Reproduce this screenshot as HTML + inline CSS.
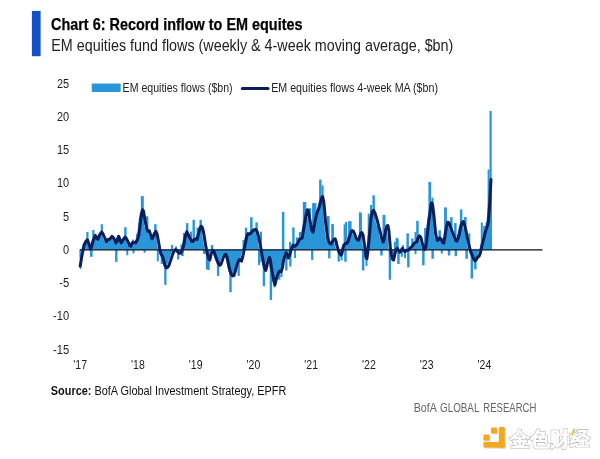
<!DOCTYPE html>
<html><head><meta charset="utf-8"><title>Chart 6</title>
<style>html,body{margin:0;padding:0;background:#fff}svg{display:block}text{font-family:"Liberation Sans", sans-serif}</style></head>
<body><svg width="600" height="459" viewBox="0 0 600 459">
<rect width="600" height="459" fill="#ffffff"/>
<rect x="31.9" y="10.9" width="8.7" height="45.3" fill="#1450c6"/>
<rect x="91.7" y="83.6" width="29" height="8.3" rx="0.8" fill="#2896d8"/><line x1="242.3" y1="88.4" x2="268" y2="88.4" stroke="#0c1d5c" stroke-width="3" stroke-linecap="round"/>
<g fill="#2896d8"><path d="M79.5,249.8 L79.5,259.5 L80.5,253.7 L81.5,249.1 L82.5,244.8 L83.5,242.7 L84.5,240.9 L85.5,239.9 L86.5,242.1 L87.5,245.2 L88.5,248.7 L89.5,247.7 L90.5,244.1 L91.5,240.5 L92.5,237.9 L93.5,235.3 L94.5,237.3 L95.5,238.6 L96.5,238.2 L97.5,235.8 L98.5,233.9 L99.5,232.7 L100.5,232.8 L101.5,234.5 L102.5,236.7 L103.5,239.0 L104.5,241.5 L105.5,240.4 L106.5,239.6 L107.5,239.3 L108.5,238.5 L109.5,237.3 L110.5,236.7 L111.5,237.7 L112.5,239.2 L113.5,241.5 L114.5,242.3 L115.5,240.6 L116.5,237.1 L117.5,238.0 L118.5,240.5 L119.5,242.6 L120.5,241.1 L121.5,239.6 L122.5,238.1 L123.5,237.3 L124.5,238.3 L125.5,240.3 L126.5,242.5 L127.5,244.8 L128.5,245.9 L129.5,245.2 L130.5,242.9 L131.5,242.4 L132.5,242.5 L133.5,242.8 L134.5,241.6 L135.5,239.9 L136.5,236.8 L137.5,231.5 L138.5,223.4 L139.5,215.4 L140.5,210.9 L141.5,210.8 L142.5,215.8 L143.5,221.7 L144.5,226.5 L145.5,229.8 L146.5,231.3 L147.5,230.8 L148.5,233.9 L149.5,236.8 L150.5,238.1 L151.5,236.6 L152.5,234.1 L153.5,232.3 L154.5,232.3 L155.5,234.9 L156.5,240.4 L157.5,246.5 L158.5,251.4 L159.5,254.5 L160.5,256.0 L161.5,258.9 L162.5,262.5 L163.5,265.9 L164.5,267.9 L165.5,267.4 L166.5,266.3 L167.5,264.4 L168.5,261.4 L169.5,258.4 L170.5,255.3 L171.5,252.7 L172.5,250.8 L173.5,249.8 L174.5,250.0 L175.5,251.0 L176.5,252.4 L177.5,253.4 L178.5,253.1 L179.5,252.0 L180.5,250.0 L181.5,246.7 L182.5,242.0 L183.5,236.2 L184.5,233.1 L185.5,232.6 L186.5,234.7 L187.5,237.0 L188.5,238.9 L189.5,240.6 L190.5,241.4 L191.5,241.1 L192.5,239.6 L193.5,239.0 L194.5,239.1 L195.5,238.3 L196.5,234.8 L197.5,230.8 L198.5,227.8 L199.5,226.5 L200.5,227.4 L201.5,231.4 L202.5,237.1 L203.5,243.1 L204.5,248.8 L205.5,253.5 L206.5,257.2 L207.5,259.5 L208.5,257.9 L209.5,253.8 L210.5,251.5 L211.5,250.8 L212.5,252.4 L213.5,255.4 L214.5,258.2 L215.5,260.8 L216.5,263.2 L217.5,265.0 L218.5,264.9 L219.5,263.3 L220.5,260.6 L221.5,257.6 L222.5,255.6 L223.5,254.6 L224.5,255.3 L225.5,258.1 L226.5,263.1 L227.5,267.7 L228.5,271.5 L229.5,274.2 L230.5,275.6 L231.5,275.5 L232.5,274.0 L233.5,271.2 L234.5,267.2 L235.5,263.8 L236.5,261.3 L237.5,259.9 L238.5,259.5 L239.5,260.9 L240.5,258.3 L241.5,254.1 L242.5,249.3 L243.5,243.8 L244.5,238.6 L245.5,235.1 L246.5,233.6 L247.5,234.1 L248.5,233.7 L249.5,232.6 L250.5,231.3 L251.5,230.3 L252.5,229.8 L253.5,229.6 L254.5,230.2 L255.5,231.9 L256.5,235.4 L257.5,240.2 L258.5,245.2 L259.5,250.4 L260.5,256.5 L261.5,261.6 L262.5,266.2 L263.5,269.6 L264.5,268.3 L265.5,264.0 L266.5,259.6 L267.5,257.6 L268.5,259.7 L269.5,266.5 L270.5,272.6 L271.5,277.6 L272.5,282.2 L273.5,283.2 L274.5,279.3 L275.5,275.4 L276.5,272.9 L277.5,271.6 L278.5,271.4 L279.5,271.2 L280.5,268.1 L281.5,261.9 L282.5,257.4 L283.5,254.5 L284.5,253.1 L285.5,254.9 L286.5,257.8 L287.5,256.0 L288.5,252.8 L289.5,249.6 L290.5,246.9 L291.5,245.4 L292.5,246.4 L293.5,245.9 L294.5,245.1 L295.5,243.8 L296.5,241.8 L297.5,239.8 L298.5,238.9 L299.5,238.4 L300.5,237.3 L301.5,231.3 L302.5,225.2 L303.5,219.2 L304.5,213.7 L305.5,210.2 L306.5,210.5 L307.5,216.4 L308.5,222.4 L309.5,227.5 L310.5,231.2 L311.5,230.7 L312.5,225.6 L313.5,220.0 L314.5,215.4 L315.5,212.3 L316.5,209.7 L317.5,206.9 L318.5,202.9 L319.5,199.3 L320.5,197.0 L321.5,199.5 L322.5,207.4 L323.5,218.6 L324.5,227.6 L325.5,235.9 L326.5,240.1 L327.5,242.4 L328.5,243.6 L329.5,243.8 L330.5,241.8 L331.5,240.2 L332.5,239.2 L333.5,239.3 L334.5,242.4 L335.5,246.9 L336.5,249.9 L337.5,252.4 L338.5,254.1 L339.5,254.7 L340.5,251.7 L341.5,247.4 L342.5,244.6 L343.5,243.6 L344.5,243.4 L345.5,242.6 L346.5,240.7 L347.5,237.5 L348.5,234.0 L349.5,231.6 L350.5,230.7 L351.5,231.2 L352.5,233.2 L353.5,236.0 L354.5,238.4 L355.5,239.7 L356.5,240.1 L357.5,237.9 L358.5,235.0 L359.5,232.9 L360.5,233.5 L361.5,236.6 L362.5,243.8 L363.5,250.8 L364.5,257.8 L365.5,255.9 L366.5,247.1 L367.5,237.0 L368.5,225.4 L369.5,216.6 L370.5,211.6 L371.5,210.6 L372.5,211.7 L373.5,214.1 L374.5,217.2 L375.5,220.7 L376.5,224.6 L377.5,228.4 L378.5,232.1 L379.5,236.6 L380.5,240.7 L381.5,241.9 L382.5,238.2 L383.5,232.3 L384.5,228.0 L385.5,225.7 L386.5,227.5 L387.5,235.4 L388.5,247.0 L389.5,254.8 L390.5,258.3 L391.5,259.9 L392.5,256.9 L393.5,252.5 L394.5,249.5 L395.5,248.5 L396.5,250.0 L397.5,251.5 L398.5,251.6 L399.5,250.1 L400.5,248.6 L401.5,249.9 L402.5,251.2 L403.5,251.4 L404.5,250.4 L405.5,250.3 L406.5,250.0 L407.5,249.2 L408.5,247.7 L409.5,247.2 L410.5,246.0 L411.5,244.5 L412.5,243.1 L413.5,242.6 L414.5,242.1 L415.5,240.3 L416.5,237.6 L417.5,236.2 L418.5,236.7 L419.5,239.2 L420.5,243.3 L421.5,247.3 L422.5,249.0 L423.5,248.5 L424.5,243.3 L425.5,234.7 L426.5,225.6 L427.5,218.0 L428.5,210.5 L429.5,204.3 L430.5,204.3 L431.5,210.5 L432.5,219.8 L433.5,230.2 L434.5,236.7 L435.5,240.4 L436.5,239.9 L437.5,238.6 L438.5,238.4 L439.5,239.5 L440.5,242.0 L441.5,242.9 L442.5,240.3 L443.5,234.5 L444.5,227.5 L445.5,223.6 L446.5,222.5 L447.5,223.7 L448.5,226.8 L449.5,229.3 L450.5,231.8 L451.5,234.3 L452.5,236.9 L453.5,239.9 L454.5,240.9 L455.5,240.1 L456.5,237.8 L457.5,234.0 L458.5,229.3 L459.5,225.0 L460.5,222.1 L461.5,221.6 L462.5,224.3 L463.5,228.0 L464.5,232.5 L465.5,237.5 L466.5,242.1 L467.5,246.3 L468.5,249.9 L469.5,253.0 L470.5,255.5 L471.5,258.0 L472.5,259.9 L473.5,260.6 L474.5,259.6 L475.5,257.6 L476.5,256.7 L477.5,255.6 L478.5,253.1 L479.5,248.6 L480.5,244.4 L481.5,240.4 L482.5,236.4 L483.5,232.3 L484.5,229.1 L485.5,226.2 L486.5,222.0 L487.5,209.4 L488.5,192.0 L489.5,179.5 L490.5,179.5 L491.5,179.5 L492,179.5 L492,249.8 Z"/><rect x="79.8" y="249.8" width="1.5" height="19.2"/><rect x="86.3" y="232.0" width="2.2" height="17.8"/><rect x="92.2" y="230.0" width="2.2" height="19.8"/><rect x="100.7" y="224.2" width="2.2" height="25.6"/><rect x="90.0" y="249.8" width="2.6" height="7.0"/><rect x="124.2" y="227.2" width="2.4" height="22.6"/><rect x="118.2" y="235.0" width="2" height="14.8"/><rect x="111.0" y="235.0" width="2" height="14.8"/><rect x="131.9" y="239.6" width="2" height="10.2"/><rect x="138.8" y="218.0" width="2.4" height="31.8"/><rect x="136.5" y="233.8" width="2" height="16.0"/><rect x="146.3" y="216.8" width="2" height="33.0"/><rect x="115.1" y="249.8" width="2.4" height="12.1"/><rect x="126.3" y="249.8" width="2" height="5.5"/><rect x="132.5" y="249.8" width="2" height="3.6"/><rect x="143.6" y="249.8" width="2" height="2.9"/><rect x="140.8" y="196.1" width="3" height="53.7"/><rect x="138.0" y="223.0" width="2" height="26.8"/><rect x="145.6" y="216.4" width="2.5" height="33.4"/><rect x="154.1" y="224.2" width="2.5" height="25.6"/><rect x="136.0" y="234.0" width="2" height="15.8"/><rect x="156.8" y="249.8" width="2" height="11.6"/><rect x="160.7" y="249.8" width="2.2" height="14.2"/><rect x="164.2" y="249.8" width="2.3" height="35.1"/><rect x="177.1" y="249.8" width="2" height="9.6"/><rect x="181.7" y="249.8" width="2" height="6.3"/><rect x="171.0" y="245.0" width="2" height="4.8"/><rect x="175.1" y="246.3" width="2" height="3.5"/><rect x="180.4" y="244.4" width="2" height="5.4"/><rect x="186.0" y="223.1" width="2.4" height="26.7"/><rect x="192.5" y="219.8" width="2.4" height="30.0"/><rect x="199.5" y="219.8" width="2.4" height="30.0"/><rect x="182.9" y="233.0" width="2" height="16.8"/><rect x="190.0" y="231.6" width="2" height="18.2"/><rect x="196.5" y="227.6" width="2.2" height="22.2"/><rect x="210.8" y="245.3" width="2.4" height="4.5"/><rect x="181.0" y="249.8" width="2" height="6.0"/><rect x="203.0" y="249.8" width="2" height="4.2"/><rect x="207.2" y="249.8" width="2.5" height="20.2"/><rect x="205.8" y="249.8" width="2.3" height="19.6"/><rect x="216.9" y="249.8" width="2.4" height="26.1"/><rect x="229.3" y="249.8" width="2.4" height="42.4"/><rect x="233.2" y="249.8" width="2.3" height="27.4"/><rect x="237.5" y="249.8" width="2.3" height="26.1"/><rect x="211.2" y="245.2" width="2" height="4.6"/><rect x="250.1" y="217.2" width="2.5" height="32.6"/><rect x="255.4" y="222.4" width="2.4" height="27.4"/><rect x="244.9" y="227.6" width="2.3" height="22.2"/><rect x="242.5" y="240.0" width="2" height="9.8"/><rect x="260.0" y="231.6" width="2" height="18.2"/><rect x="258.8" y="249.8" width="2" height="12.5"/><rect x="258.0" y="249.8" width="2" height="15.2"/><rect x="262.7" y="249.8" width="2.4" height="36.3"/><rect x="269.7" y="249.8" width="2.4" height="50.1"/><rect x="273.6" y="249.8" width="2" height="37.6"/><rect x="278.1" y="249.8" width="2.3" height="29.8"/><rect x="280.5" y="249.8" width="2" height="27.2"/><rect x="285.2" y="249.8" width="2.3" height="20.7"/><rect x="289.2" y="249.8" width="2.3" height="16.7"/><rect x="281.9" y="211.8" width="2.5" height="38.0"/><rect x="292.2" y="227.5" width="2.4" height="22.3"/><rect x="289.0" y="241.8" width="2" height="8.0"/><rect x="296.0" y="237.3" width="2" height="12.5"/><rect x="298.8" y="232.0" width="2.4" height="17.8"/><rect x="302.8" y="202.0" width="3.5" height="47.8"/><rect x="308.4" y="208.5" width="2" height="41.3"/><rect x="312.1" y="203.3" width="3.8" height="46.5"/><rect x="294.0" y="249.8" width="2" height="8.2"/><rect x="311.1" y="249.8" width="2.2" height="10.2"/><rect x="319.1" y="179.6" width="2.5" height="70.2"/><rect x="321.6" y="185.5" width="2" height="64.3"/><rect x="312.9" y="203.1" width="3.5" height="46.7"/><rect x="309.0" y="208.3" width="2" height="41.5"/><rect x="317.0" y="209.0" width="2" height="40.8"/><rect x="327.1" y="216.2" width="2.5" height="33.6"/><rect x="331.5" y="224.0" width="2.3" height="25.8"/><rect x="344.9" y="222.0" width="2.3" height="27.8"/><rect x="326.8" y="216.6" width="2.3" height="33.2"/><rect x="331.4" y="224.4" width="2.3" height="25.4"/><rect x="343.6" y="224.4" width="2.5" height="25.4"/><rect x="348.1" y="221.2" width="3.5" height="28.6"/><rect x="359.4" y="213.3" width="2.5" height="36.5"/><rect x="328.1" y="249.8" width="2.3" height="8.6"/><rect x="337.6" y="249.8" width="2.3" height="11.9"/><rect x="340.6" y="249.8" width="2" height="10.6"/><rect x="344.2" y="249.8" width="2.5" height="11.9"/><rect x="358.9" y="212.3" width="2.5" height="37.5"/><rect x="367.7" y="213.6" width="2" height="36.2"/><rect x="370.0" y="205.0" width="2" height="44.8"/><rect x="372.4" y="195.3" width="2.5" height="54.5"/><rect x="382.5" y="214.9" width="3" height="34.9"/><rect x="377.0" y="221.0" width="2" height="28.8"/><rect x="361.9" y="249.8" width="2.5" height="20.7"/><rect x="365.5" y="249.8" width="2" height="16.2"/><rect x="380.2" y="249.8" width="2.5" height="5.7"/><rect x="388.7" y="249.8" width="2.3" height="29.9"/><rect x="395.6" y="237.8" width="2" height="12.0"/><rect x="396.2" y="238.5" width="2.5" height="11.3"/><rect x="393.9" y="241.8" width="2" height="8.0"/><rect x="402.1" y="245.1" width="2" height="4.7"/><rect x="406.4" y="233.3" width="2.5" height="16.5"/><rect x="411.2" y="238.5" width="2.3" height="11.3"/><rect x="416.2" y="220.9" width="2.5" height="28.9"/><rect x="414.5" y="232.0" width="2" height="17.8"/><rect x="424.1" y="228.1" width="2.5" height="21.7"/><rect x="397.2" y="249.8" width="2.5" height="14.2"/><rect x="400.8" y="249.8" width="2" height="7.0"/><rect x="404.0" y="249.8" width="2" height="8.2"/><rect x="407.1" y="249.8" width="2.5" height="17.5"/><rect x="414.5" y="249.8" width="2" height="4.4"/><rect x="422.1" y="249.8" width="2.5" height="15.5"/><rect x="392.0" y="249.8" width="2" height="10.2"/><rect x="428.4" y="181.9" width="2.8" height="67.9"/><rect x="431.5" y="197.6" width="2" height="52.2"/><rect x="438.4" y="230.3" width="2.5" height="19.5"/><rect x="444.1" y="207.4" width="2.8" height="42.4"/><rect x="450.1" y="217.2" width="2.5" height="32.6"/><rect x="454.1" y="223.1" width="2.5" height="26.7"/><rect x="459.9" y="209.4" width="2.5" height="40.4"/><rect x="464.1" y="217.0" width="2.5" height="32.8"/><rect x="468.3" y="233.3" width="2" height="16.5"/><rect x="431.4" y="249.8" width="2.5" height="9.0"/><rect x="440.8" y="249.8" width="2" height="3.8"/><rect x="447.8" y="249.8" width="2.5" height="5.7"/><rect x="454.6" y="249.8" width="2.5" height="6.4"/><rect x="465.4" y="249.8" width="2.5" height="9.0"/><rect x="470.6" y="249.8" width="2.5" height="28.8"/><rect x="474.1" y="249.8" width="2.5" height="19.6"/><rect x="480.8" y="222.5" width="2" height="27.3"/><rect x="483.2" y="226.0" width="2.5" height="23.8"/><rect x="485.7" y="222.0" width="2" height="27.8"/><rect x="487.6" y="169.6" width="2" height="80.2"/><rect x="489.5" y="111.0" width="2.2" height="138.8"/></g>
<line x1="79.8" y1="249.8" x2="542.5" y2="249.8" stroke="#0d1020" stroke-width="1.2"/>
<polyline points="80.2,266.0 82.2,254.2 84.2,245.0 86.1,241.1 87.4,239.8 88.7,243.1 90.4,249.0 91.3,247.7 93.3,240.5 95.3,235.3 96.6,237.9 97.9,239.2 99.8,234.6 101.8,232.0 103.1,234.0 105.1,238.5 106.4,241.8 107.7,239.8 109.6,239.2 110.5,238.3 112.0,236.4 113.9,238.3 115.9,242.9 117.2,240.9 118.5,236.4 119.8,239.0 121.1,242.9 122.4,240.9 123.7,239.0 125.0,237.0 126.3,238.3 127.6,240.9 129.6,245.5 130.9,246.2 132.2,242.9 133.5,242.3 135.5,242.9 137.5,239.6 138.9,234.7 140.2,224.2 141.5,213.8 142.6,209.8 143.5,211.1 144.4,216.4 145.5,222.9 146.8,228.8 148.1,231.4 149.4,230.8 150.7,235.3 152.0,238.6 153.3,236.6 154.6,233.4 155.9,231.4 157.2,234.4 158.5,241.5 159.8,249.6 161.1,254.2 162.4,256.1 163.7,260.1 165.0,265.3 166.3,267.9 167.6,267.3 169.0,265.3 170.3,261.4 171.6,257.5 172.9,253.5 174.2,250.9 175.5,249.6 176.8,250.3 178.1,252.2 179.4,253.5 180.7,252.9 182.0,250.9 183.0,247.8 183.9,244.5 185.2,236.5 186.8,231.6 188.1,234.2 189.8,238.1 191.8,241.4 193.1,241.4 194.4,239.4 195.7,238.8 197.0,239.4 198.3,234.8 199.6,229.6 200.9,226.3 202.2,227.0 203.5,232.2 204.8,240.1 206.1,247.9 207.5,254.4 208.8,259.0 209.8,260.0 211.2,254.0 212.8,250.3 214.0,251.5 215.3,255.4 216.8,259.6 218.1,262.8 219.4,265.2 220.7,264.8 222.0,261.5 223.3,257.6 224.6,255.0 225.9,254.3 227.2,257.6 228.5,264.1 229.8,270.0 231.1,273.9 232.5,275.9 233.8,275.3 235.1,272.0 236.4,266.8 237.7,262.5 239.0,260.0 240.3,259.5 241.5,261.2 242.8,256.5 244.2,249.8 245.5,242.7 246.8,236.1 248.1,233.5 249.4,234.2 250.7,233.5 252.0,231.6 253.3,230.3 254.6,229.6 255.9,229.6 257.2,231.6 258.5,236.1 259.8,242.7 261.1,249.2 262.2,256.0 263.5,262.6 264.8,268.5 265.7,270.5 266.8,266.5 268.1,260.0 269.4,257.4 270.4,260.0 271.3,266.5 272.6,274.4 274.0,280.9 274.9,284.8 275.9,280.9 277.2,275.7 278.5,272.4 279.8,271.1 281.1,271.8 282.5,267.5 283.5,260.5 284.8,255.5 286.1,252.8 287.2,254.5 288.2,258.0 289.4,255.8 290.6,251.8 291.7,248.4 293.0,245.1 294.3,246.4 295.6,245.8 297.0,244.4 298.3,241.8 299.6,239.2 300.9,238.6 302.2,237.9 303.5,230.1 304.8,222.2 306.1,214.4 307.4,209.8 308.3,210.5 309.4,217.0 310.7,224.8 312.0,230.7 313.0,232.2 313.9,227.8 315.2,220.5 316.5,214.5 317.8,211.0 319.1,207.7 320.4,202.5 321.7,197.9 322.6,196.6 323.7,201.1 324.7,211.6 325.6,222.1 326.6,229.9 327.4,236.8 328.5,240.8 329.8,243.4 331.2,244.0 332.5,241.4 333.8,239.5 335.1,238.8 336.1,241.4 337.0,246.0 338.3,249.9 339.6,253.2 341.0,255.1 341.9,253.8 342.9,248.6 344.2,244.7 345.5,243.4 346.8,243.4 348.1,241.4 349.5,236.8 350.8,232.3 352.1,230.6 353.3,231.2 354.6,233.8 355.9,237.8 357.2,239.7 358.5,240.2 359.6,237.1 360.9,233.2 361.8,232.5 363.1,235.1 364.0,241.7 365.2,250.0 366.1,257.5 366.9,258.8 367.8,252.2 368.7,243.1 369.4,236.0 370.0,228.6 371.0,218.1 372.3,211.6 373.6,210.3 374.9,212.9 376.2,216.8 377.5,221.4 378.8,226.6 380.1,231.2 381.4,237.1 382.3,240.7 383.4,242.0 384.4,237.8 385.7,229.9 387.0,225.8 387.9,225.5 388.9,230.5 389.6,239.1 390.3,247.0 391.3,254.8 392.6,259.4 393.6,260.1 394.6,255.5 395.9,250.0 397.2,248.3 398.5,250.3 399.8,252.3 401.2,250.3 402.5,248.3 403.8,250.9 405.1,251.6 406.4,250.3 407.7,250.3 409.0,249.6 410.3,247.7 411.6,247.0 412.9,245.1 414.2,243.1 415.5,242.5 416.8,241.8 418.1,237.9 419.5,235.9 420.8,237.2 422.1,242.5 423.4,247.7 424.7,249.6 425.7,247.7 426.6,241.1 427.6,232.0 428.6,222.8 429.8,214.6 430.9,205.5 431.8,202.8 432.7,205.5 433.8,214.6 434.8,225.1 435.7,234.2 437.2,240.5 438.5,239.8 439.8,237.9 441.2,239.2 442.5,242.5 443.8,243.1 445.1,235.9 446.4,226.8 447.7,222.2 449.0,222.8 450.3,226.8 451.6,230.0 452.9,233.3 454.2,236.6 455.5,240.5 456.8,241.1 458.1,238.5 459.5,233.3 460.8,226.8 462.1,222.2 463.4,221.5 464.7,225.5 466.0,231.0 467.3,237.5 468.6,243.5 469.8,248.3 471.1,252.5 472.4,255.7 473.7,259.0 475.0,260.9 476.3,259.6 477.6,257.0 479.0,256.4 480.3,253.1 481.6,247.2 482.9,242.0 484.2,236.8 485.5,231.5 486.8,227.6 487.7,225.0 488.3,222.0 489.2,211.0 489.9,200.0 490.5,188.0 491.0,179.5" fill="none" stroke="#0c1d5c" stroke-width="3" stroke-linejoin="round" stroke-linecap="round"/>
<text x="51" y="30" font-size="16.9" font-weight="bold" fill="#000" text-anchor="start" textLength="251.5" lengthAdjust="spacingAndGlyphs" stroke="#000" stroke-width="0.25">Chart 6: Record inflow to EM equites</text><text x="51.3" y="50.9" font-size="16.8" font-weight="normal" fill="#222" text-anchor="start" textLength="402" lengthAdjust="spacingAndGlyphs">EM equities fund flows (weekly &amp; 4-week moving average, $bn)</text><text x="69.2" y="87.6" font-size="12.3" font-weight="normal" fill="#222" text-anchor="end" textLength="12.2" lengthAdjust="spacingAndGlyphs">25</text><text x="69.2" y="120.8" font-size="12.3" font-weight="normal" fill="#222" text-anchor="end" textLength="12.2" lengthAdjust="spacingAndGlyphs">20</text><text x="69.2" y="154.1" font-size="12.3" font-weight="normal" fill="#222" text-anchor="end" textLength="12.2" lengthAdjust="spacingAndGlyphs">15</text><text x="69.2" y="187.3" font-size="12.3" font-weight="normal" fill="#222" text-anchor="end" textLength="12.2" lengthAdjust="spacingAndGlyphs">10</text><text x="69.2" y="220.6" font-size="12.3" font-weight="normal" fill="#222" text-anchor="end" textLength="6.1" lengthAdjust="spacingAndGlyphs">5</text><text x="69.2" y="253.8" font-size="12.3" font-weight="normal" fill="#222" text-anchor="end" textLength="6.1" lengthAdjust="spacingAndGlyphs">0</text><text x="69.2" y="287.1" font-size="12.3" font-weight="normal" fill="#222" text-anchor="end" textLength="10.0" lengthAdjust="spacingAndGlyphs">-5</text><text x="69.2" y="320.4" font-size="12.3" font-weight="normal" fill="#222" text-anchor="end" textLength="16.1" lengthAdjust="spacingAndGlyphs">-10</text><text x="69.2" y="353.6" font-size="12.3" font-weight="normal" fill="#222" text-anchor="end" textLength="16.1" lengthAdjust="spacingAndGlyphs">-15</text><text x="80.2" y="369.4" font-size="12.3" font-weight="normal" fill="#222" text-anchor="middle" textLength="13.7" lengthAdjust="spacingAndGlyphs">'17</text><text x="137.95" y="369.4" font-size="12.3" font-weight="normal" fill="#222" text-anchor="middle" textLength="13.7" lengthAdjust="spacingAndGlyphs">'18</text><text x="195.7" y="369.4" font-size="12.3" font-weight="normal" fill="#222" text-anchor="middle" textLength="13.7" lengthAdjust="spacingAndGlyphs">'19</text><text x="253.45" y="369.4" font-size="12.3" font-weight="normal" fill="#222" text-anchor="middle" textLength="13.7" lengthAdjust="spacingAndGlyphs">'20</text><text x="311.2" y="369.4" font-size="12.3" font-weight="normal" fill="#222" text-anchor="middle" textLength="13.7" lengthAdjust="spacingAndGlyphs">'21</text><text x="368.95" y="369.4" font-size="12.3" font-weight="normal" fill="#222" text-anchor="middle" textLength="13.7" lengthAdjust="spacingAndGlyphs">'22</text><text x="426.7" y="369.4" font-size="12.3" font-weight="normal" fill="#222" text-anchor="middle" textLength="13.7" lengthAdjust="spacingAndGlyphs">'23</text><text x="484.45" y="369.4" font-size="12.3" font-weight="normal" fill="#222" text-anchor="middle" textLength="13.7" lengthAdjust="spacingAndGlyphs">'24</text><text x="122.6" y="92" font-size="12" font-weight="normal" fill="#222" text-anchor="start" textLength="110" lengthAdjust="spacingAndGlyphs">EM equities flows ($bn)</text><text x="271.2" y="92" font-size="12" font-weight="normal" fill="#222" text-anchor="start" textLength="166.8" lengthAdjust="spacingAndGlyphs">EM equities flows 4-week MA ($bn)</text><text x="50.8" y="394.6" font-size="12.3" fill="#111" textLength="235.5" lengthAdjust="spacingAndGlyphs"><tspan font-weight="bold">Source:</tspan> BofA Global Investment Strategy, EPFR</text><text x="413.7" y="412" font-size="13.4" font-weight="normal" fill="#666" text-anchor="start" textLength="23.3" lengthAdjust="spacingAndGlyphs">BofA</text><text x="440" y="412" font-size="13.4" font-weight="normal" fill="#666" text-anchor="start" textLength="39.4" lengthAdjust="spacingAndGlyphs">GLOBAL</text><text x="483.3" y="412" font-size="13.4" font-weight="normal" fill="#666" text-anchor="start" textLength="53" lengthAdjust="spacingAndGlyphs">RESEARCH</text>
<g>
<g fill="#cfcfcf" transform="translate(0.9,0.9)"><rect x="498.8" y="426.9" width="5.9" height="20.6" rx="1.2"/><rect x="483.4" y="442" width="21.3" height="5.5" rx="1.2"/><rect x="491" y="427.6" width="6" height="5.8" rx="1.2"/><rect x="483.4" y="434.5" width="6.1" height="6.1" rx="1.2"/></g>
<g fill="#f6a81c"><rect x="498.8" y="426.9" width="5.9" height="20.6" rx="1.2"/><rect x="483.4" y="442" width="21.3" height="5.5" rx="1.2"/><rect x="491" y="427.6" width="6" height="5.8" rx="1.2"/><rect x="483.4" y="434.5" width="6.1" height="6.1" rx="1.2"/></g>
<g font-size="19.5" font-weight="bold" font-family='"Liberation Sans","Noto Sans CJK SC",sans-serif'>
<text x="510" y="445.6" fill="#a8a8a8" stroke="#b2b2b2" stroke-width="1.5" textLength="79.5" lengthAdjust="spacingAndGlyphs" transform="translate(0.4,0.4)">金色财经</text>
<text x="510" y="445.6" fill="#ffffff" stroke="#ffffff" stroke-width="0.2" textLength="79.5" lengthAdjust="spacingAndGlyphs">金色财经</text>
</g>
<path d="M573.6,429.4 L575.2,430 L572.6,435.8 L571.2,435.2 Z" fill="#e9b740"/>
</g>
</svg></body></html>
